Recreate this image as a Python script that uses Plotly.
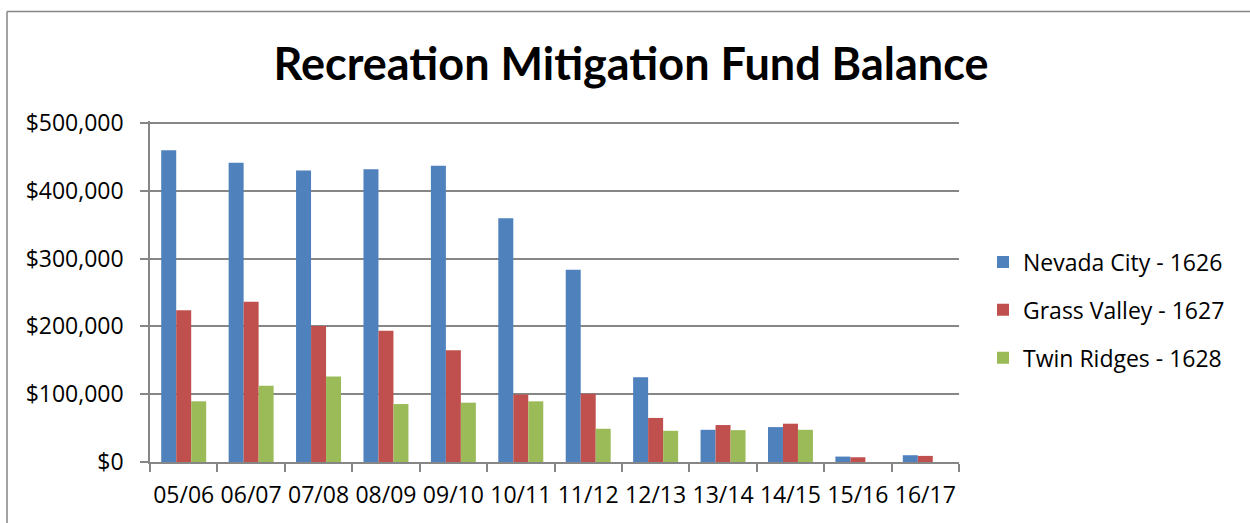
import plotly.graph_objects as go

categories = ["05/06", "06/07", "07/08", "08/09", "09/10", "10/11",
              "11/12", "12/13", "13/14", "14/15", "15/16", "16/17"]
nevada_city = [460000, 441500, 430000, 432000, 437000, 359500,
               283500, 125000, 47500, 51500, 8000, 10000]
grass_valley = [224000, 236500, 200500, 193500, 165000, 99500,
                100500, 65000, 54500, 56500, 7000, 9000]
twin_ridges = [89500, 112500, 126000, 85500, 87500, 89500,
               49000, 46000, 47000, 47500, 0, 0]
series_names = ["Nevada City - 1626", "Grass Valley - 1627", "Twin Ridges - 1628"]
series_colors = ["#4F81BD", "#C0504D", "#9BBB59"]
y_tick_vals = [0, 100000, 200000, 300000, 400000, 500000]
y_tick_text = ["$0", "$100,000", "$200,000", "$300,000", "$400,000", "$500,000"]

W, H = 1250, 523
L, R, T, B = 150, 291, 121, 61
pw, ph = W - L - R, H - T - B

def px(x):
    return (x - L) / pw

def py(y):
    return (H - B - y) / ph

FONT = "'Open Sans', sans-serif"
TITLE_FONT = "Lato, sans-serif"

fig = go.Figure()
for i, (name, vals, col) in enumerate(zip(series_names,
                                          [nevada_city, grass_valley, twin_ridges],
                                          series_colors)):
    fig.add_trace(go.Bar(x=categories, y=vals, name=name,
                         marker=dict(color=col, line=dict(width=0)),
                         legendgroup=f"g{i}"))

fig.update_layout(
    width=W, height=H,
    margin=dict(l=L, r=R, t=T, b=B, autoexpand=False),
    paper_bgcolor="white", plot_bgcolor="white",
    barmode="group", bargap=0.333, bargroupgap=0,
    font=dict(family=FONT, color="#000000"),
    title=dict(text="<b>Recreation Mitigation Fund Balance</b>",
               font=dict(family=TITLE_FONT, size=45, color="#000000"),
               x=px(631), xref="paper", xanchor="center",
               y=1 - 64 / H, yref="container", yanchor="middle"),
    legend=dict(x=px(983), y=py(310), xanchor="left", yanchor="middle",
                font=dict(family=FONT, size=23), tracegroupgap=15,
                bgcolor="rgba(0,0,0,0)"),
    showlegend=True,
)
fig.update_xaxes(
    type="category", showline=True, linecolor="#868686", linewidth=1.5,
    ticks="outside", ticklen=8, tickcolor="#868686", tickwidth=1.5,
    tickson="boundaries", showgrid=False, tickangle=0,
    tickfont=dict(family=FONT, size=23, color="#000000"),
    ticklabelstandoff=12,
)
fig.update_yaxes(
    range=[0, 503000], tickmode="array", tickvals=y_tick_vals, ticktext=y_tick_text,
    showline=True, linecolor="#868686", linewidth=1.5,
    ticks="outside", ticklen=8, tickcolor="#868686", tickwidth=1.5,
    showgrid=True, gridcolor="#868686", gridwidth=1.5, zeroline=False,
    tickfont=dict(family=FONT, size=23, color="#000000"),
    ticklabelstandoff=12,
)

# outer chart border (cropped at right and bottom)
fig.add_shape(type="line", xref="paper", yref="paper",
              x0=px(7), x1=px(1260), y0=py(11.5), y1=py(11.5),
              line=dict(color="#868686", width=1.5))
fig.add_shape(type="line", xref="paper", yref="paper",
              x0=px(7), x1=px(7), y0=py(11.5), y1=py(530),
              line=dict(color="#868686", width=1.5))

fig.write_html("out.html",
               config={"displayModeBar": False},
               post_script="document.body.style.margin='0';document.body.style.overflow='hidden';")
